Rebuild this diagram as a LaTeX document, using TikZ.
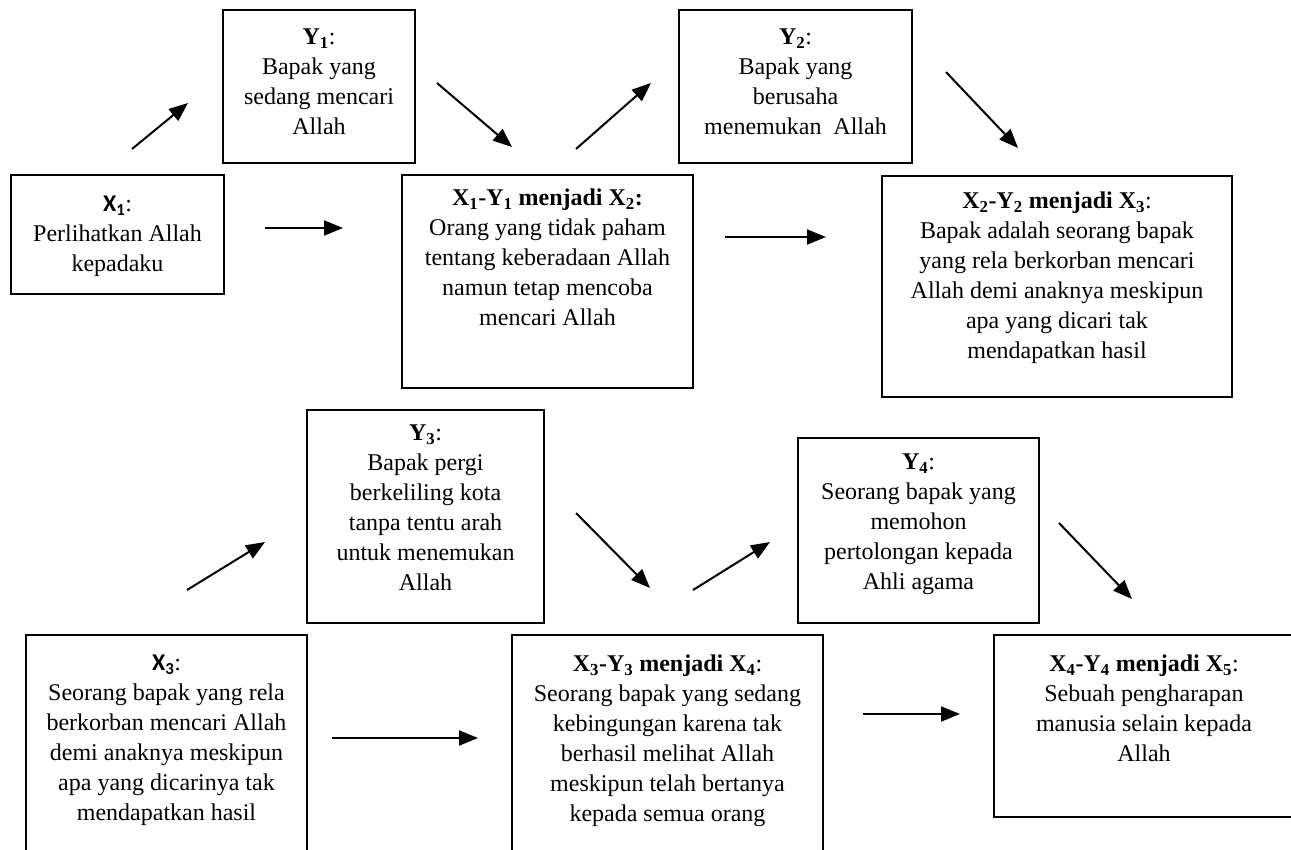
\documentclass[tikz,border=0pt]{standalone}
\usepackage{fontspec}
\setmainfont{Liberation Serif}
\newfontfamily\calfont{Carlito}
\usetikzlibrary{arrows.meta}
\newcommand{\sub}[1]{\textsubscript{#1}}
\begin{document}
\begin{tikzpicture}[x=1pt,y=-1pt,
  box/.style={draw,line width=1.6pt,inner sep=0pt},
  txt/.style={anchor=north,align=center,inner sep=0pt,font=\fontsize{24}{30}\selectfont},
  arr/.style={line width=2pt,-{Triangle[length=19pt,width=15pt]}}]
\clip (0,0) rectangle (1291,850);
\useasboundingbox (0,0) rectangle (1291,850);
% boxes
\node[box,minimum width=213pt,minimum height=119pt] (x1) at (117.5,234.5) {};
\node[box,minimum width=192pt,minimum height=153pt] (y1) at (319,86.5) {};
\node[box,minimum width=291pt,minimum height=213pt] (x2) at (547.5,281.5) {};
\node[box,minimum width=233pt,minimum height=153pt] (y2) at (795.5,86.5) {};
\node[box,minimum width=350pt,minimum height=221pt] (x3) at (1057,286.5) {};
\node[box,minimum width=237pt,minimum height=213pt] (y3) at (425.5,516.5) {};
\node[box,minimum width=241pt,minimum height=185pt] (y4) at (918.5,530.5) {};
\node[box,minimum width=281pt,minimum height=235pt] (x3b) at (166.5,752.5) {};
\node[box,minimum width=311pt,minimum height=235pt] (x4) at (667.5,752.5) {};
\node[box,minimum width=306pt,minimum height=182pt] (x5) at (1147,726) {};
% texts
\node[txt] (tx1) at (117.5,196) {{\calfont\bfseries X\sub{1}}:\\Perlihatkan Allah\\kepadaku};
\node[txt] (ty1) at (319,29) {\textbf{Y\sub{1}}:\\Bapak yang\\sedang mencari\\Allah};
\node[txt] (tx2) at (547.5,189) {\textbf{X\sub{1}-Y\sub{1} menjadi X\sub{2}:}\\Orang yang tidak paham\\tentang keberadaan Allah\\namun tetap mencoba\\mencari Allah};
\node[txt] (ty2) at (795.5,29) {\textbf{Y\sub{2}}:\\Bapak yang\\berusaha\\menemukan\ \ Allah};
\node[txt] (tx3) at (1057,192) {\textbf{X\sub{2}-Y\sub{2} menjadi X\sub{3}}:\\Bapak adalah seorang bapak\\yang rela berkorban mencari\\Allah demi anaknya meskipun\\apa yang dicari tak\\mendapatkan hasil};
\node[txt] (ty3) at (425.5,425) {\textbf{Y\sub{3}}:\\Bapak pergi\\berkeliling kota\\tanpa tentu arah\\untuk menemukan\\Allah};
\node[txt] (ty4) at (918.5,454) {\textbf{Y\sub{4}}:\\Seorang bapak yang\\memohon\\pertolongan kepada\\Ahli agama};
\node[txt] (tx3b) at (166.5,655) {{\calfont\bfseries X\sub{3}}:\\Seorang bapak yang rela\\berkorban mencari Allah\\demi anaknya meskipun\\apa yang dicarinya tak\\mendapatkan hasil};
\node[txt] (tx4) at (667.5,655) {\textbf{X\sub{3}-Y\sub{3} menjadi X\sub{4}}:\\Seorang bapak yang sedang\\kebingungan karena tak\\berhasil melihat Allah\\meskipun telah bertanya\\kepada semua orang};
\node[txt] (tx5) at (1144,655) {\textbf{X\sub{4}-Y\sub{4} menjadi X\sub{5}}:\\Sebuah pengharapan\\manusia selain kepada\\Allah};
% arrow end points
\coordinate (a1s) at (132,149); \coordinate (a1e) at (188,103);
\coordinate (a2s) at (437,83);  \coordinate (a2e) at (512,147);
\coordinate (a3s) at (576,149); \coordinate (a3e) at (651,83);
\coordinate (a4s) at (946,72);  \coordinate (a4e) at (1018,148);
\coordinate (h1s) at (265,228); \coordinate (h1e) at (343,228);
\coordinate (h2s) at (725,237); \coordinate (h2e) at (826,237);
\coordinate (d1s) at (187,590); \coordinate (d1e) at (265,542);
\coordinate (d2s) at (576,513); \coordinate (d2e) at (650,588);
\coordinate (d3s) at (693,590); \coordinate (d3e) at (770,542);
\coordinate (d4s) at (1059,523); \coordinate (d4e) at (1132,599);
\coordinate (h3s) at (332,738); \coordinate (h3e) at (478,738);
\coordinate (h4s) at (863,714); \coordinate (h4e) at (960,714);
\foreach \p in {a1,a2,a3,a4,h1,h2,d1,d2,d3,d4,h3,h4}
  \draw[arr] (\p s) -- (\p e);
\end{tikzpicture}
\end{document}
